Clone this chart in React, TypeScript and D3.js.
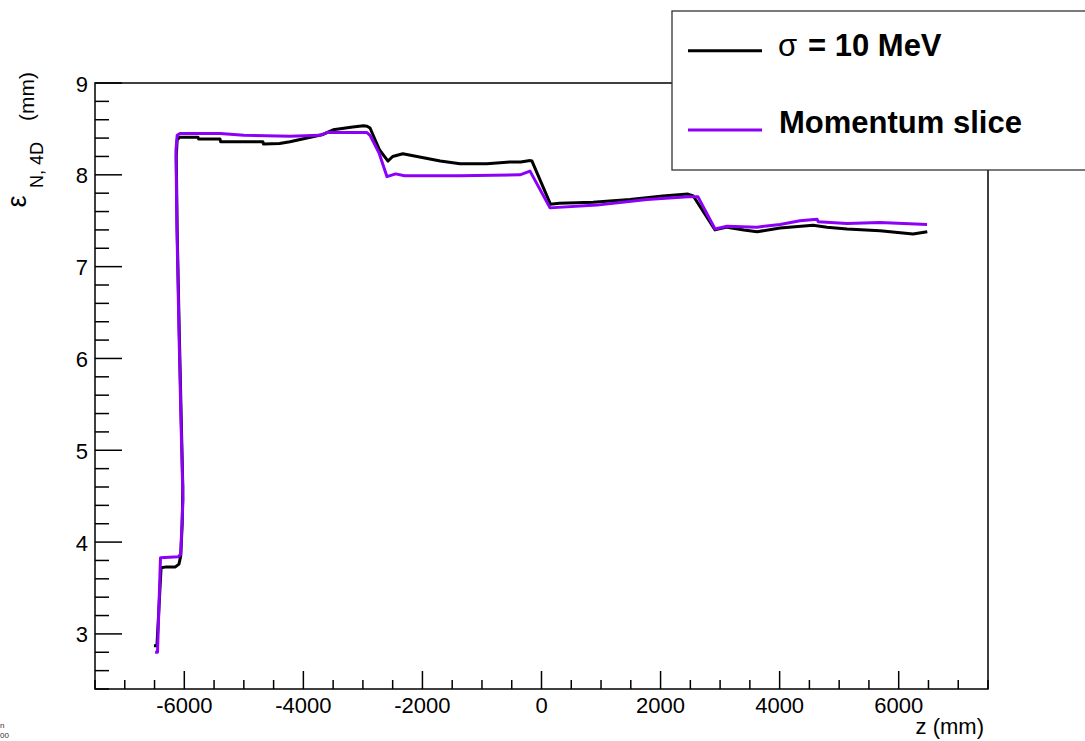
import React from "react";
import * as d3 from "d3";

const sigmaZ = [-6510, -6460, -6390, -6300, -6150, -6090, -6060, -6035, -6025, -6050, -6085, -6120, -6135, -6120, -6080, -5770, -5760, -5400, -5390, -4680, -4670, -4400, -4225, -3940, -3670, -3500, -3170, -2990, -2930, -2880, -2720, -2578, -2500, -2330, -1700, -1370, -915, -530, -350, -190, -160, 150, 300, 865, 1487, 2040, 2460, 2550, 2915, 3116, 3400, 3620, 4007, 4561, 4796, 5132, 5686, 6241, 6480];
const sigmaV = [2.87, 2.87, 3.72, 3.73, 3.73, 3.76, 3.85, 4.2, 4.6, 5.3, 6.3, 7.4, 8.2, 8.38, 8.41, 8.41, 8.39, 8.39, 8.36, 8.36, 8.335, 8.34, 8.36, 8.40, 8.44, 8.49, 8.52, 8.535, 8.53, 8.51, 8.27, 8.15, 8.2, 8.23, 8.15, 8.12, 8.12, 8.14, 8.14, 8.155, 8.15, 7.68, 7.69, 7.70, 7.73, 7.77, 7.79, 7.77, 7.40, 7.43, 7.40, 7.38, 7.42, 7.45, 7.43, 7.41, 7.39, 7.355, 7.38];

const sliceZ = [-6490, -6450, -6400, -6100, -6060, -6040, -6022, -6056, -6090, -6123, -6140, -6120, -6073, -5400, -5000, -4225, -3721, -3603, -2931, -2880, -2730, -2595, -2450, -2300, -1369, -361, -193, 143, 932, 1772, 2461, 2629, 2915, 3116, 3620, 4007, 4343, 4628, 4650, 5132, 5686, 6476];
const sliceV = [2.80, 2.80, 3.83, 3.84, 3.87, 4.2, 4.46, 5.33, 6.31, 7.40, 8.27, 8.43, 8.45, 8.45, 8.43, 8.42, 8.43, 8.46, 8.46, 8.43, 8.24, 7.98, 8.01, 7.99, 7.99, 8.0, 8.04, 7.64, 7.67, 7.73, 7.76, 7.76, 7.41, 7.44, 7.43, 7.46, 7.50, 7.515, 7.49, 7.47, 7.48, 7.46];

const xMajor = [-6000, -4000, -2000, 0, 2000, 4000, 6000];
const yMajor = [3, 4, 5, 6, 7, 8, 9];
const legendLabels = ["σ", "= 10 MeV", "Momentum slice"];
const axisTitles = ["z (mm)", "ε", "N, 4D", "(mm)"];

const FONT = "'Liberation Sans', Arial, Helvetica, sans-serif";
const PURPLE = "#8c00f8";

export default function App() {
  const W = 1085, H = 741;
  const L = 95, R = 988, T = 83, B = 689;
  const x = d3.scaleLinear().domain([-7500, 7500]).range([L, R]);
  const y = d3.scaleLinear().domain([2.4, 9]).range([B, T]);

  const xMinor = d3.range(-7500, 7501, 500).filter((v) => v % 2000 !== 0);
  const yMinor = d3.range(24, 91, 2).map((v) => v / 10).filter((v) => Math.abs(v - Math.round(v)) > 1e-6);

  const line = d3.line<[number, number]>().x((d) => x(d[0])).y((d) => y(d[1]));
  const sigmaPts = sigmaZ.map((z, i) => [z, sigmaV[i]] as [number, number]);
  const slicePts = sliceZ.map((z, i) => [z, sliceV[i]] as [number, number]);

  return (
    <svg width={W} height={H} style={{ position: "absolute", left: 0, top: 0, background: "#fff" }} fontFamily={FONT}>
      <rect x={0} y={0} width={W} height={H} fill="#fff" />
      {/* curves */}
      <path d={line(sigmaPts) || ""} fill="none" stroke="#000" strokeWidth={3} strokeLinejoin="round" />
      <path d={line(slicePts) || ""} fill="none" stroke={PURPLE} strokeWidth={3} strokeLinejoin="round" />
      {/* frame */}
      <rect x={L} y={T} width={R - L} height={B - T} fill="none" stroke="#000" strokeWidth={1.5} />
      {/* x ticks */}
      {xMajor.map((v) => (
        <line key={"xM" + v} x1={x(v)} x2={x(v)} y1={B} y2={B - 18} stroke="#000" strokeWidth={1.5} />
      ))}
      {xMinor.map((v) => (
        <line key={"xm" + v} x1={x(v)} x2={x(v)} y1={B} y2={B - 9} stroke="#000" strokeWidth={1.5} />
      ))}
      {xMajor.map((v) => (
        <text key={"xl" + v} x={x(v)} y={713} fontSize={22} textAnchor="middle" fill="#000">
          {v}
        </text>
      ))}
      {/* y ticks */}
      {yMajor.map((v) => (
        <line key={"yM" + v} x1={L} x2={L + 27} y1={y(v)} y2={y(v)} stroke="#000" strokeWidth={1.5} />
      ))}
      {yMinor.map((v) => (
        <line key={"ym" + v} x1={L} x2={L + 14} y1={y(v)} y2={y(v)} stroke="#000" strokeWidth={1.5} />
      ))}
      {yMajor.map((v) => (
        <text key={"yl" + v} x={88} y={y(v) + 8.5} fontSize={22} textAnchor="end" fill="#000">
          {v}
        </text>
      ))}
      {/* axis titles */}
      <text x={984} y={734} fontSize={22} textAnchor="end" fill="#000">{axisTitles[0]}</text>
      <text transform={`translate(26,201.5) rotate(-90)`} fontSize={27} textAnchor="middle" fill="#000">{axisTitles[1]}</text>
      <text transform={`translate(43,188) rotate(-90)`} fontSize={18} textAnchor="start" fill="#000">{axisTitles[2]}</text>
      <text transform={`translate(34,121) rotate(-90)`} fontSize={21} textAnchor="start" fill="#000">{axisTitles[3]}</text>
      {/* stray bits bottom-left */}
      <text x={0} y={728} fontSize={8} fill="#333">n</text>
      <text x={0} y={738} fontSize={8} fill="#333">00</text>
      {/* legend */}
      <rect x={672} y={11} width={430} height={159} fill="#fff" stroke="#333" strokeWidth={1.3} />
      <line x1={688} x2={762} y1={50.7} y2={50.7} stroke="#000" strokeWidth={3} />
      <line x1={688} x2={762} y1={130} y2={130} stroke={PURPLE} strokeWidth={3} />
      <text x={778} y={56} fontSize={31} fill="#000">{legendLabels[0]}</text>
      <text x={808} y={56} fontSize={31} fontWeight="bold" fill="#000">{legendLabels[1]}</text>
      <text x={779} y={133} fontSize={31} fontWeight="bold" fill="#000">{legendLabels[2]}</text>
    </svg>
  );
}
